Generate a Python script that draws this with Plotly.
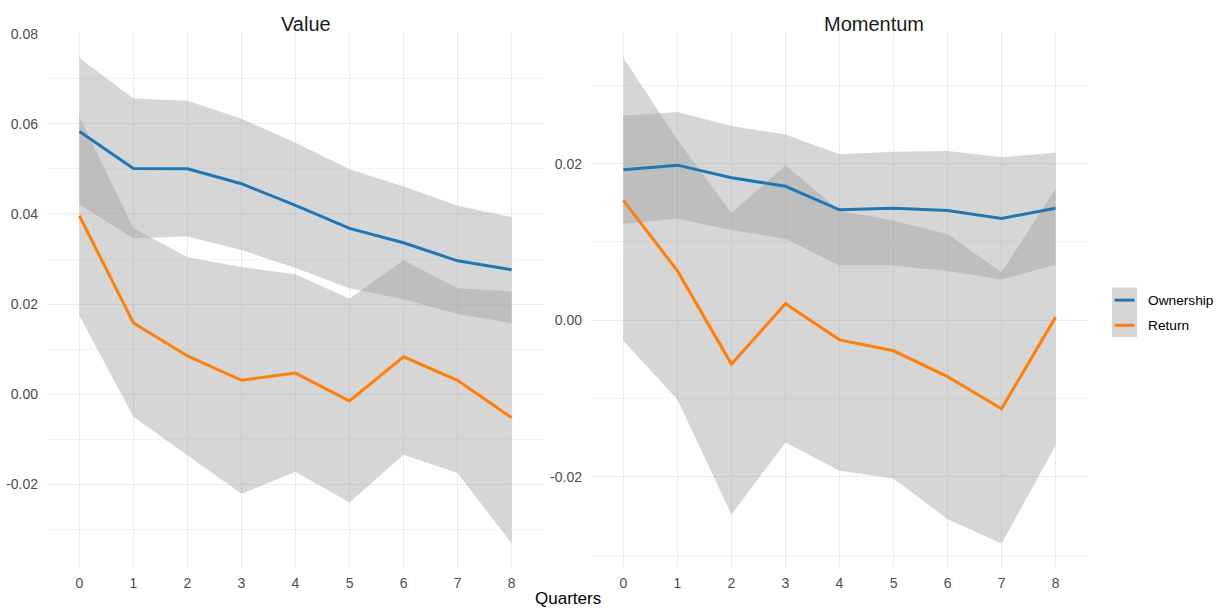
import plotly.graph_objects as go

quarters = [0, 1, 2, 3, 4, 5, 6, 7, 8]
quarter_labels = ["0", "1", "2", "3", "4", "5", "6", "7", "8"]

value_yticks = [-0.02, 0.00, 0.02, 0.04, 0.06, 0.08]
value_ylabels = ["-0.02", "0.00", "0.02", "0.04", "0.06", "0.08"]
mom_yticks = [-0.02, 0.00, 0.02]
mom_ylabels = ["-0.02", "0.00", "0.02"]

value_own = [0.0583, 0.0501, 0.0500, 0.0467, 0.0419, 0.0368, 0.0336, 0.0296, 0.0276]
value_own_hi = [0.0746, 0.0656, 0.0651, 0.0611, 0.0558, 0.0499, 0.0461, 0.0418, 0.0393]
value_own_lo = [0.0421, 0.0346, 0.0350, 0.0320, 0.0280, 0.0235, 0.0211, 0.0178, 0.0158]
value_ret = [0.0396, 0.0158, 0.0085, 0.0031, 0.0047, -0.0015, 0.0083, 0.0031, -0.0052]
value_ret_hi = [0.0616, 0.0368, 0.0304, 0.0282, 0.0266, 0.0212, 0.0297, 0.0235, 0.0228]
value_ret_lo = [0.0174, -0.0050, -0.0136, -0.0221, -0.0172, -0.0240, -0.0134, -0.0175, -0.0331]

mom_own = [0.0192, 0.0198, 0.0182, 0.0171, 0.0141, 0.0143, 0.0140, 0.0130, 0.0143]
mom_own_hi = [0.0261, 0.0266, 0.0248, 0.0237, 0.0212, 0.0215, 0.0216, 0.0208, 0.0214]
mom_own_lo = [0.0123, 0.0130, 0.0115, 0.0104, 0.0070, 0.0070, 0.0063, 0.0052, 0.0071]
mom_ret = [0.0153, 0.0063, -0.0056, 0.0021, -0.0025, -0.0039, -0.0072, -0.0113, 0.0004]
mom_ret_hi = [0.0335, 0.0230, 0.0137, 0.0198, 0.0140, 0.0127, 0.0110, 0.0061, 0.0168]
mom_ret_lo = [-0.0026, -0.0101, -0.0248, -0.0156, -0.0192, -0.0202, -0.0254, -0.0285, -0.0160]

panels = ["Value", "Momentum"]
series_names = ["Ownership", "Return"]
series_colors = {"Ownership": "#1f77b4", "Return": "#ff7f0e"}
RIBBON = "rgba(156,156,156,0.415)"
FONT = "Liberation Sans, Arial, sans-serif"

panel_data = {
    "Value": {
        "Ownership": (value_own, value_own_lo, value_own_hi),
        "Return": (value_ret, value_ret_lo, value_ret_hi),
    },
    "Momentum": {
        "Ownership": (mom_own, mom_own_lo, mom_own_hi),
        "Return": (mom_ret, mom_ret_lo, mom_ret_hi),
    },
}

fig = go.Figure()
axes = [("x", "y"), ("x2", "y2")]
for (xa, ya), panel in zip(axes, panels):
    d = panel_data[panel]
    for s in series_names:
        mid, lo, hi = d[s]
        fig.add_trace(go.Scatter(
            x=quarters + quarters[::-1], y=hi + lo[::-1],
            fill="toself", fillcolor=RIBBON, line=dict(width=0),
            mode="lines", hoverinfo="skip", showlegend=False,
            xaxis=xa, yaxis=ya, name=s + " band"))
    for s in series_names:
        mid, lo, hi = d[s]
        fig.add_trace(go.Scatter(
            x=quarters, y=mid, mode="lines", name=s,
            line=dict(color=series_colors[s], width=3),
            showlegend=False, xaxis=xa, yaxis=ya))

W, H = 1223, 611
ydom = [1 - 567.3 / H, 1 - 25.5 / H]
xdom1 = [47 / W, 544 / W]
xdom2 = [591 / W, 1088 / W]
title_x = [306 / W, 873.5 / W]

grid = "#ebebeb"
minor_grid = "#f3f3f3"
tickfont = dict(family=FONT, size=14, color="#4d4d4d")

def xaxis(dom, anchor):
    return dict(domain=dom, anchor=anchor, range=[-0.6, 8.6],
                tickmode="array", tickvals=quarters, ticktext=quarter_labels,
                showgrid=True, gridcolor=grid, gridwidth=1.1,
                zeroline=False, showline=False, ticks="",
                ticklabelstandoff=5, tickfont=tickfont)

def yaxis(dom, anchor, rng, tv, tt):
    return dict(domain=dom, anchor=anchor, range=rng,
                tickmode="array", tickvals=tv, ticktext=tt,
                showgrid=True, gridcolor=grid, gridwidth=1.1,
                minor=dict(tickmode="linear", dtick=0.01, tick0=0.01,
                           showgrid=True, gridcolor=minor_grid, gridwidth=0.8),
                zeroline=False, showline=False, ticks="",
                ticklabelstandoff=8, tickfont=tickfont)

fig.update_layout(
    width=W, height=H,
    margin=dict(l=0, r=0, t=0, b=0),
    paper_bgcolor="white", plot_bgcolor="white",
    font=dict(family=FONT),
    xaxis=xaxis(xdom1, "y"),
    yaxis=yaxis(ydom, "x", [-0.03852, 0.0801], value_yticks, value_ylabels),
    xaxis2=xaxis(xdom2, "y2"),
    yaxis2=yaxis(ydom, "x2", [-0.03161, 0.03665], mom_yticks, mom_ylabels),
    showlegend=False,
)

# Facet titles
for tx, panel in zip(title_x, panels):
    fig.add_annotation(text=panel, xref="paper", yref="paper",
                       x=tx, y=1 - 16 / H,
                       xanchor="center", yanchor="middle", showarrow=False,
                       font=dict(family=FONT, size=20, color="#1a1a1a"))

# Shared x-axis title
fig.add_annotation(text="Quarters", xref="paper", yref="paper",
                   x=(xdom1[0] + xdom2[1]) / 2, y=1 - 598 / H,
                   xanchor="center", yanchor="middle", showarrow=False,
                   font=dict(family=FONT, size=17, color="#000000"))

# Legend (key background, key lines, labels)
fig.add_shape(type="rect", xref="paper", yref="paper",
              x0=1112 / W, x1=1137 / W, y0=1 - 333.3 / H, y1=1 - 283.3 / H,
              fillcolor="#d6d6d6", line=dict(width=0), layer="below")
for i, s in enumerate(series_names):
    yy = 296 + 25.5 * i
    fig.add_shape(type="line", xref="paper", yref="paper",
                  x0=1114.5 / W, x1=1134.5 / W, y0=1 - yy / H, y1=1 - yy / H,
                  line=dict(color=series_colors[s], width=3))
    fig.add_annotation(text=s, xref="paper", yref="paper",
                       x=1145.5 / W, y=1 - yy / H, xanchor="left", yanchor="middle",
                       showarrow=False,
                       font=dict(family=FONT, size=13.7, color="#000000"))

fig.write_html("out.html",
               config={"displayModeBar": False},
               post_script="document.body.style.margin='0';document.body.style.overflow='hidden';")
